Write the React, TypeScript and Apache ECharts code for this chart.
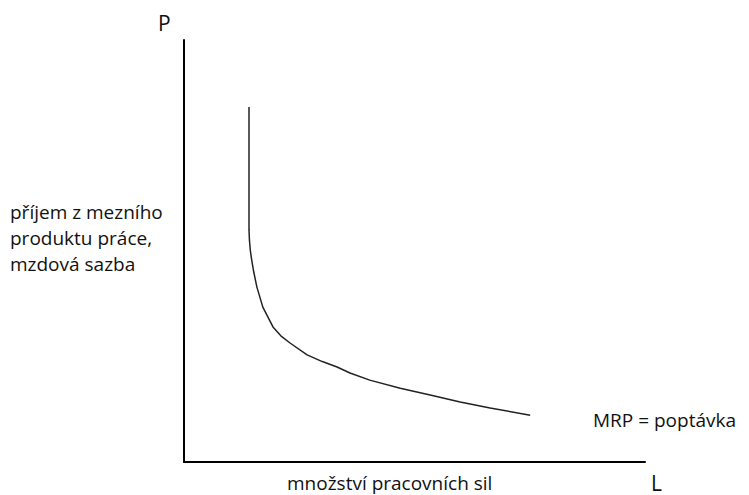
import React, { useEffect, useRef } from "react";
import * as echarts from "echarts";

const curveX = [14.1, 14.1, 14.2, 14.4, 14.7, 15.1, 15.8, 17.1, 19.3, 21.0, 23.0, 26.7, 30.0, 33.2, 36.0, 40.3, 46.9, 53.4, 59.9, 66.4, 75.1];
const curveY = [84.1, 55.0, 52.5, 50.0, 47.8, 45.2, 41.5, 36.7, 32.0, 29.9, 28.2, 25.4, 23.8, 22.5, 21.1, 19.4, 17.5, 15.9, 14.2, 12.8, 11.1];
const yTitleLines = ["příjem z mezního", "produktu práce,", "mzdová sazba"];
const xTitle = "množství pracovních sil";
const curveLabel = "MRP = poptávka";
const yAxisLetter = "P";
const xAxisLetter = "L";

const FONT = "'Open Sans', 'Noto Sans', sans-serif";

export default function App() {
  const ref = useRef<HTMLDivElement>(null);
  useEffect(() => {
    if (!ref.current) return;
    const chart = echarts.init(ref.current, null, { renderer: "svg" });
    const data = curveX.map((x, i) => [x, curveY[i]]);
    chart.setOption({
      animation: false,
      backgroundColor: "#ffffff",
      grid: { left: 184, top: 40, width: 461, height: 422 },
      xAxis: {
        type: "value", min: 0, max: 100,
        axisLine: { show: true, lineStyle: { color: "#000", width: 2 } },
        axisTick: { show: false }, axisLabel: { show: false }, splitLine: { show: false },
      },
      yAxis: {
        type: "value", min: 0, max: 100,
        axisLine: { show: true, lineStyle: { color: "#000", width: 2 } },
        axisTick: { show: false }, axisLabel: { show: false }, splitLine: { show: false },
      },
      series: [{
        type: "line", data, smooth: false, symbol: "none",
        lineStyle: { color: "#222", width: 1.5 },
      }],
      graphic: [
        { type: "text", left: 158, top: 12, style: { text: yAxisLetter, font: `21px ${FONT}`, fill: "#111" } },
        { type: "text", left: 651, top: 472, style: { text: xAxisLetter, font: `21px ${FONT}`, fill: "#111" } },
        { type: "text", left: 10, top: 199, style: { text: yTitleLines.join("\n"), font: `19px ${FONT}`, lineHeight: 26, fill: "#111" } },
        { type: "text", left: 287, top: 473, style: { text: xTitle, font: `19px ${FONT}`, lineHeight: 20, fill: "#111" } },
        { type: "text", left: 593, top: 409, style: { text: curveLabel, font: `19px ${FONT}`, lineHeight: 22, fill: "#111" } },
      ],
    });
    return () => chart.dispose();
  }, []);
  return <div ref={ref} style={{ width: 749, height: 495, position: "absolute", left: 0, top: 0 }} />;
}
